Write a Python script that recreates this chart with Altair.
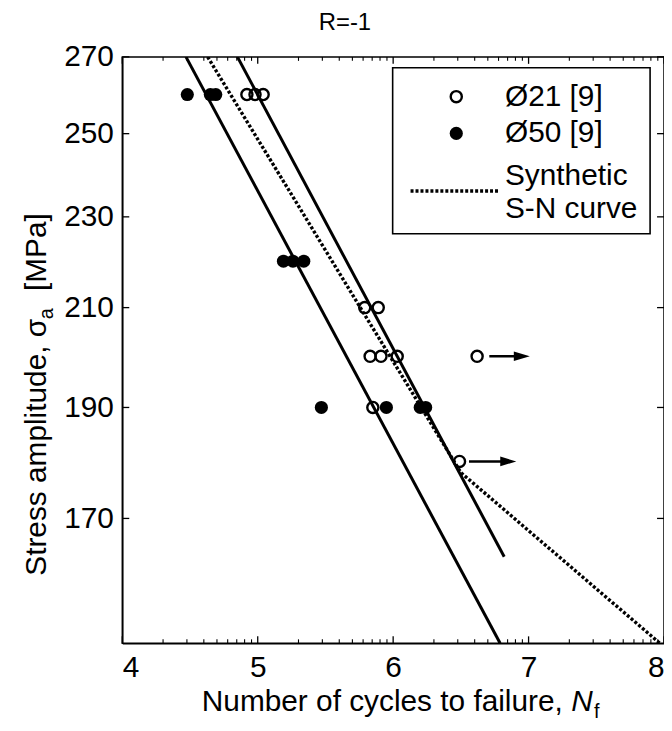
import math
import altair as alt
import pandas as pd

FONT = "Liberation Sans"

# ---------------- data ----------------
d21_x = [4.92, 4.98, 5.04, 5.79, 5.89, 5.83, 5.91, 6.03, 6.62, 5.85, 6.49]
d21_y = [260, 260, 260, 210, 210, 200, 200, 200, 200, 190, 180]

d50_x = [4.48, 4.65, 4.69, 5.19, 5.26, 5.34, 5.47, 5.95, 6.20, 6.24]
d50_y = [260, 260, 260, 220, 220, 220, 190, 190, 190, 190]

fit21_x = [4.85, 6.82]
fit21_y = [270, 163.6]
fit50_x = [4.47, 6.79]
fit50_y = [270, 150]
synth_x = [4.63, 6.50, 7.97]
synth_y = [270, 178, 150]

arrow_x0 = [6.71, 6.56]
arrow_head = [6.95, 6.85]
arrow_y = [200, 180]

x_ticks = [4, 5, 6, 7, 8]
y_ticks = [170, 190, 210, 230, 250, 270]
x_domain = [4, 8]
y_domain = [150, 270]

W, H = 545, 590
FS = 30

# minor log ticks within each decade of the x axis
x_minor = [d + math.log10(k) for d in [4, 5, 6, 7] for k in range(2, 10)]

x_scale = alt.Scale(domain=x_domain, nice=False, zero=False)
y_scale = alt.Scale(type="log", domain=y_domain, nice=False)
x_axis = alt.Axis(values=x_ticks, title=None, format="d", labelPadding=9)
y_axis = alt.Axis(values=y_ticks, title=None, format="d", labelPadding=9)


def X(f):
    return alt.X(f, type="quantitative", scale=x_scale, axis=x_axis)


def Y(f):
    return alt.Y(f, type="quantitative", scale=y_scale, axis=y_axis)


df21 = pd.DataFrame({"x": d21_x, "y": d21_y})
df50 = pd.DataFrame({"x": d50_x, "y": d50_y})
dfit21 = pd.DataFrame({"x": fit21_x, "y": fit21_y})
dfit50 = pd.DataFrame({"x": fit50_x, "y": fit50_y})
dsyn = pd.DataFrame({"x": synth_x, "y": synth_y})
darrow = pd.DataFrame({"x0": arrow_x0, "xh": arrow_head, "y": arrow_y})
dxt = pd.DataFrame({"t": x_ticks})
dxm = pd.DataFrame({"t": x_minor})
dyt = pd.DataFrame({"t": y_ticks})
one = pd.DataFrame({"k": [0]})

layers = []

# fitted lines
layers.append(alt.Chart(dfit50).mark_line(color="black", strokeWidth=3, clip=True)
              .encode(x=X("x"), y=Y("y")))
layers.append(alt.Chart(dfit21).mark_line(color="black", strokeWidth=3, clip=True)
              .encode(x=X("x"), y=Y("y")))
layers.append(alt.Chart(dsyn).mark_line(color="black", strokeWidth=3.4, strokeDash=[3, 2], clip=True)
              .encode(x=X("x"), y=Y("y")))

# run-out arrows
layers.append(alt.Chart(darrow).mark_rule(color="black", strokeWidth=2.5)
              .encode(x=X("x0"), x2="xh", y=Y("y")))
layers.append(alt.Chart(darrow).mark_point(shape="M -1 -0.6 L 1 0 L -1 0.6 Z", size=260,
                                           filled=True, color="black", opacity=1)
              .encode(x=X("xh"), y=Y("y")))

# data points
layers.append(alt.Chart(df50).mark_point(shape="circle", size=175, filled=True,
                                         color="black", opacity=1)
              .encode(x=X("x"), y=Y("y")))
layers.append(alt.Chart(df21).mark_point(shape="circle", size=125, filled=False,
                                         color="black", strokeWidth=2.4, opacity=1)
              .encode(x=X("x"), y=Y("y")))

# inward ticks: bottom/top major + minor, left/right major
layers.append(alt.Chart(dxt).mark_rule(color="black", strokeWidth=1.3)
              .encode(x=X("t"), y=alt.value(H), y2=alt.value(H - 7)))
layers.append(alt.Chart(dxt).mark_rule(color="black", strokeWidth=1.3)
              .encode(x=X("t"), y=alt.value(0), y2=alt.value(7)))
layers.append(alt.Chart(dxm).mark_rule(color="black", strokeWidth=1.1)
              .encode(x=X("t"), y=alt.value(H), y2=alt.value(H - 4)))
layers.append(alt.Chart(dxm).mark_rule(color="black", strokeWidth=1.1)
              .encode(x=X("t"), y=alt.value(0), y2=alt.value(4)))
layers.append(alt.Chart(dyt).mark_rule(color="black", strokeWidth=1.3)
              .encode(y=Y("t"), x=alt.value(0), x2=alt.value(7)))
layers.append(alt.Chart(dyt).mark_rule(color="black", strokeWidth=1.3)
              .encode(y=Y("t"), x=alt.value(W), x2=alt.value(W - 7)))


def txt(s, x, y, size=FS, align="left", baseline="middle", angle=0, style="normal"):
    return (alt.Chart(one)
            .mark_text(text=s, font=FONT, fontSize=size, align=align, baseline=baseline,
                       angle=angle, fontStyle=style, color="black")
            .encode(x=alt.value(x), y=alt.value(y)))


# legend box
layers.append(alt.Chart(one).mark_rect(fill="white", stroke="black", strokeWidth=1.6)
              .encode(x=alt.value(272), x2=alt.value(531), y=alt.value(11), y2=alt.value(178)))
layers.append(alt.Chart(one).mark_point(shape="circle", size=125, filled=False, color="black",
                                        strokeWidth=2.4, opacity=1)
              .encode(x=alt.value(336), y=alt.value(40)))
layers.append(alt.Chart(one).mark_point(shape="circle", size=175, filled=True, color="black",
                                        opacity=1)
              .encode(x=alt.value(336), y=alt.value(77)))
layers.append(alt.Chart(one).mark_rule(color="black", strokeWidth=3.4, strokeDash=[3, 2])
              .encode(x=alt.value(290), x2=alt.value(380), y=alt.value(135)))
layers.append(txt("Ø21 [9]", 385, 40))
layers.append(txt("Ø50 [9]", 385, 77))
layers.append(txt("Synthetic", 385, 120))
layers.append(txt("S-N curve", 385, 153))

# chart title
layers.append(txt("R=-1", 224, -34, size=24, align="center"))

# x axis title with italic N and subscript f
xt_left = 80
part1 = "Number of cycles to failure, "
part1_w = 12.393 * FS
layers.append(txt(part1, xt_left, 658, baseline="alphabetic"))
layers.append(txt("N", xt_left + part1_w, 658, baseline="alphabetic", style="italic"))
layers.append(txt("f", xt_left + part1_w + 0.722 * FS + 1, 665, size=20, baseline="alphabetic"))

# y axis title, rotated, with subscript a
yt_x = -77
yt_start = 522
p1 = "Stress amplitude, σ"
p1_w = 8.6 * FS
layers.append(txt(p1, yt_x, yt_start, angle=270, baseline="alphabetic"))
layers.append(txt("a", yt_x + 7, yt_start - p1_w, size=20, angle=270, baseline="alphabetic"))
layers.append(txt("[MPa]", yt_x, yt_start - p1_w - 0.39 * FS - 0.556 * FS, angle=270,
                  baseline="alphabetic"))

chart = (alt.layer(*layers)
         .properties(width=W, height=H,
                     autosize=alt.AutoSizeParams(type="none"),
                     padding={"left": 115, "top": 47, "right": 0, "bottom": 78})
         .configure_view(stroke="black", strokeWidth=1.5)
         .configure_axis(domainColor="black", domainWidth=1.5, labelColor="black",
                         labelFont=FONT, labelFontSize=FS, ticks=False, grid=False))

chart.save("out.html", embed_options={"renderer": "svg", "actions": False})
